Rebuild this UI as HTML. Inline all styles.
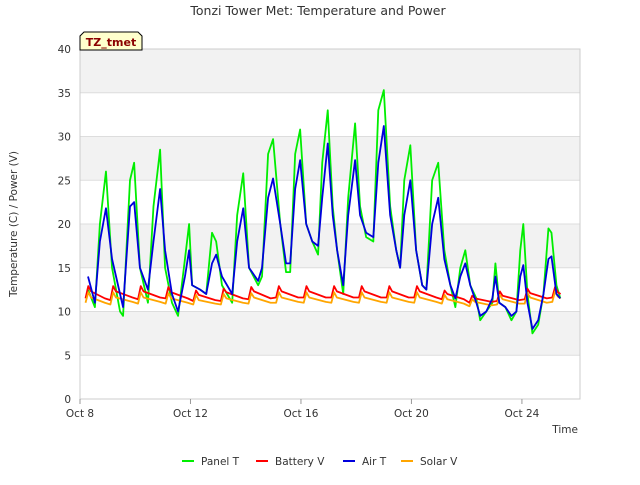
<!DOCTYPE html>
<html><head><meta charset="utf-8"><style>
body{margin:0;background:#fff;font-family:"Liberation Sans","DejaVu Sans",sans-serif}
svg text{font-family:"DejaVu Sans","Liberation Sans",sans-serif}
</style></head><body>
<svg id="chart" width="640" height="480" xmlns="http://www.w3.org/2000/svg">
<text x="318" y="15" text-anchor="middle" font-size="12.5" fill="#333">Tonzi Tower Met: Temperature and Power</text>
<g id="bands"></g><g id="grid"></g>
<rect x="80" y="49" width="500" height="350" fill="none" stroke="#ccc"/>
<g id="ticks"></g><g id="series"></g>
<text transform="translate(17,224) rotate(-90)" text-anchor="middle" font-size="10.5" fill="#333">Temperature (C) / Power (V)</text>
<text x="578" y="433" text-anchor="end" font-size="10.5" fill="#333">Time</text>
<g>
<path d="M80,50 L80,36 L84,32 L138,32 L142,36 L142,50 Z" fill="#ffffcc" stroke="#000"/>
<text x="111" y="46" text-anchor="middle" font-size="11" font-weight="bold" fill="#8b0000">TZ_tmet</text></g>
<g id="legend"></g>
</svg>
<script>
const yTicks=[0,5,10,15,20,25,30,35,40];
const xTickDays=[0,4,8,12,16];
const xTickLabels=["Oct 8","Oct 12","Oct 16","Oct 20","Oct 24"];
const tempTimes=[0.29,0.54,0.72,0.94,1.16,1.45,1.56,1.81,1.96,2.17,2.46,2.66,2.90,3.08,3.33,3.55,3.80,3.95,4.06,4.35,4.57,4.78,4.93,5.14,5.51,5.69,5.91,6.12,6.45,6.59,6.81,6.99,7.25,7.46,7.61,7.79,7.97,8.19,8.41,8.62,8.77,8.97,9.15,9.31,9.53,9.71,9.96,10.14,10.36,10.62,10.80,11.00,11.23,11.45,11.59,11.74,11.96,12.17,12.39,12.54,12.75,12.97,13.19,13.41,13.59,13.77,13.95,14.13,14.35,14.49,14.71,14.93,15.04,15.18,15.40,15.62,15.80,15.94,16.05,16.20,16.38,16.59,16.78,16.96,17.07,17.25,17.39];
const panelT=[12.5,10.5,20,26,15,10,9.5,25,27,15,11,22,28.5,15,11,9.5,16,20,13,12.5,12,19,18,13,11,21,25.8,15,13,14,28,29.7,20,14.5,14.5,28,30.8,20,18,16.5,27,33,22,17,12,23,31.5,22,18.5,18,33,35.3,22,17,15,25,29,17,13,12.5,25,27,17,13,10.5,15,17,13,11.5,9,10,11,15.5,11,10.5,9,10,17,20,12,7.5,8.5,12,19.5,19,13,11.5];
const airT=[14,11,18,21.8,16,12,10.5,22,22.5,15,12.5,18,24,17,12,10,14,17,13,12.5,12,15.5,16.5,14,12,18,21.8,15,13.5,15,23,25.2,20,15.5,15.5,24,27.3,20,18,17.5,23,29.2,21,17,13,21,27.3,21,19,18.5,27,31.2,21,17,15,21,25,17,13,12.5,20,23,16,13,11.5,14,15.5,13,11,9.5,10,11.5,14,11,10.5,9.5,10,14,15.3,11,8,9,12,16,16.3,12,11.5];
const powerTimes=[0.2,0.3,0.4,0.9,1.1,1.2,1.3,1.9,2.1,2.2,2.3,2.9,3.1,3.2,3.3,3.9,4.1,4.2,4.3,4.9,5.1,5.2,5.3,5.9,6.1,6.2,6.3,6.9,7.1,7.2,7.3,7.9,8.1,8.2,8.3,8.9,9.1,9.2,9.3,9.9,10.1,10.2,10.3,10.9,11.1,11.2,11.3,11.9,12.1,12.2,12.3,12.9,13.1,13.2,13.3,13.9,14.1,14.2,14.3,14.9,15.1,15.2,15.3,15.9,16.1,16.2,16.3,16.9,17.1,17.2,17.3,17.4];
const batteryV=[11.5,12.9,12.3,11.5,11.3,12.9,12.3,11.6,11.4,12.9,12.3,11.6,11.5,12.8,12.2,11.5,11.2,12.4,11.9,11.3,11.2,12.6,12.2,11.5,11.4,12.8,12.3,11.5,11.6,12.9,12.3,11.6,11.6,12.9,12.3,11.6,11.6,12.9,12.3,11.6,11.6,12.9,12.3,11.6,11.6,12.9,12.3,11.6,11.6,12.9,12.3,11.6,11.4,12.4,12.0,11.4,11.0,11.8,11.5,11.1,11.2,12.3,11.8,11.3,11.4,12.6,12.1,11.5,11.6,12.8,12.2,12.0];
const solarV=[11.0,12.2,11.6,11.0,10.8,12.2,11.6,11.1,10.9,12.2,11.6,11.1,10.9,12.1,11.5,11.0,10.8,11.9,11.3,10.9,10.8,12.0,11.5,11.0,10.9,12.1,11.6,11.0,11.0,12.2,11.6,11.1,11.0,12.2,11.6,11.1,11.0,12.2,11.6,11.1,11.0,12.2,11.6,11.1,11.0,12.2,11.6,11.1,11.0,12.2,11.6,11.1,10.9,11.9,11.4,10.9,10.6,11.4,11.1,10.7,10.8,11.9,11.4,10.9,10.9,12.1,11.6,11.0,11.1,12.3,11.7,11.5];
const X=d=>80+d*27.62, Y=v=>399-v*8.75;
const NS="http://www.w3.org/2000/svg";
function mk(t,a,p){const e=document.createElementNS(NS,t);for(const k in a)e.setAttribute(k,a[k]);p.appendChild(e);return e;}
const bands=document.getElementById('bands'),grid=document.getElementById('grid'),ticks=document.getElementById('ticks');
for(let i=0;i<8;i++){if(i%2===1){const b=mk('rect',{x:80,y:Y(yTicks[i+1]),width:500,height:Y(yTicks[i])-Y(yTicks[i+1]),fill:'#f2f2f2'},bands);

}}
yTicks.forEach(v=>{const l=mk('line',{x1:80,x2:580,y1:Y(v),y2:Y(v),stroke:'#ddd'},grid);


const t=mk('text',{x:71,y:Y(v)+4,'text-anchor':'end','font-size':10.5,fill:'#333'},ticks);t.textContent=v;

});
xTickDays.forEach((d,i)=>{mk('line',{x1:X(d),x2:X(d),y1:399,y2:404,stroke:'#999'},ticks);
const t=mk('text',{x:X(d),y:417,'text-anchor':'middle','font-size':10.5,fill:'#333'},ticks);t.textContent=xTickLabels[i];

});
const S=document.getElementById('series');
function line(ts,vs,col,name){const p=mk('polyline',{points:ts.map((t,i)=>X(t)+','+Y(vs[i])).join(' '),fill:'none',stroke:col,'stroke-width':1.8,'stroke-linejoin':'round'},S);

}
line(tempTimes,panelT,'#00ee00','panel-t-line');
line(powerTimes,batteryV,'#ff0000','battery-v-line');
line(powerTimes,solarV,'#ffa500','solar-v-line');
line(tempTimes,airT,'#0000dd','air-t-line');
const L=document.getElementById('legend');
const leg=[["Panel T","#00ee00",182],["Battery V","#ff0000",256],["Air T","#0000dd",343],["Solar V","#ffa500",401]];
leg.forEach(([n,c,x])=>{const g=mk('g',{},L);


mk('line',{x1:x,x2:x+12,y1:461,y2:461,stroke:c,'stroke-width':2},g);
const t=mk('text',{x:x+19,y:465,'font-size':10.5,fill:'#333'},g);t.textContent=n;});
</script>
</body></html>
